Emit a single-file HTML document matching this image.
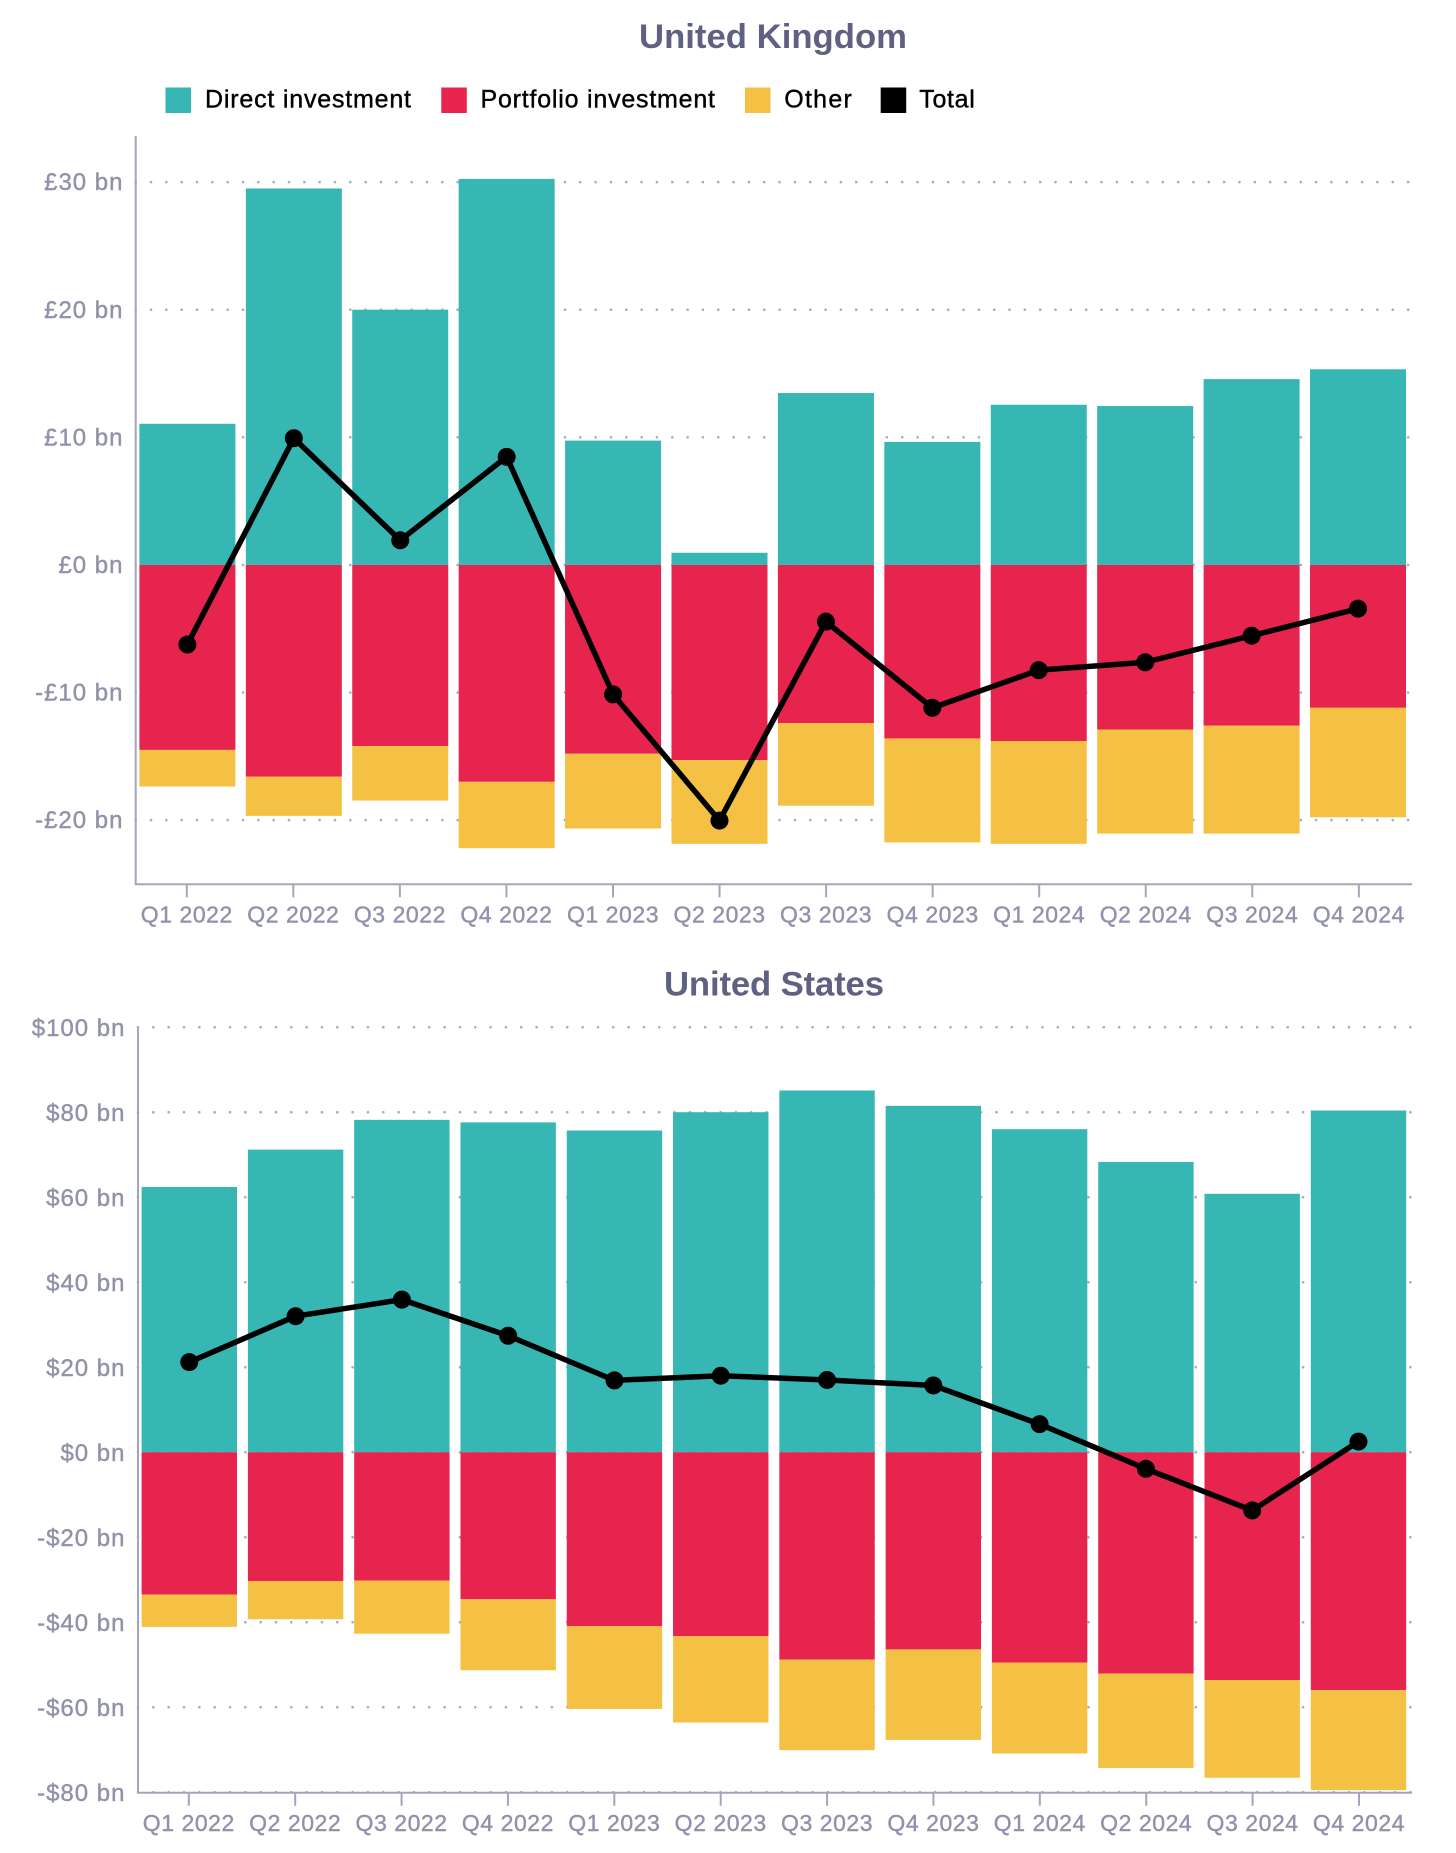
<!DOCTYPE html>
<html lang="en">
<head>
<meta charset="utf-8">
<title>Investment flows: United Kingdom and United States</title>
<style>
html,body{margin:0;padding:0;background:#fff;width:1456px;height:1853px;overflow:hidden}
svg{display:block;font-family:"Liberation Sans",Arial,sans-serif}
.title{font-size:34.7px;font-weight:700;fill:#5f6183;text-anchor:middle}
.legend-text{font-size:25px;fill:#000;stroke:#000;stroke-width:.4}
.tick-text{font-size:23px;fill:#8f92aa;stroke:#8f92aa;stroke-width:.4;letter-spacing:.55px}
.y-tick-text{font-size:24px;letter-spacing:1px}
</style>
</head>
<body>
<svg id="figure" width="1456" height="1853" viewBox="0 0 1456 1853" xmlns="http://www.w3.org/2000/svg">
  <text class="title" x="773" y="48" textLength="268" lengthAdjust="spacing">United Kingdom</text>
  <g>
    <rect x="165.5" y="87.5" width="25.5" height="25.5" fill="#36b7b4"/>
    <text class="legend-text" x="205" y="107.7" textLength="206" lengthAdjust="spacing">Direct investment</text>
    <rect x="441.3" y="87.5" width="25.5" height="25.5" fill="#e7244d"/>
    <text class="legend-text" x="480.5" y="107.7" textLength="234.5" lengthAdjust="spacing">Portfolio investment</text>
    <rect x="745" y="87.5" width="25.5" height="25.5" fill="#f4c145"/>
    <text class="legend-text" x="784.3" y="107.7" textLength="67.5" lengthAdjust="spacing">Other</text>
    <rect x="880.7" y="87.5" width="25.5" height="25.5" fill="#000"/>
    <text class="legend-text" x="919.3" y="107.7" textLength="55.5" lengthAdjust="spacing">Total</text>
  </g>
  <text class="title" x="774" y="995.7" textLength="220" lengthAdjust="spacing">United States</text>
</svg>
<script>
const quarters = ["Q1 2022","Q2 2022","Q3 2022","Q4 2022","Q1 2023","Q2 2023","Q3 2023","Q4 2023","Q1 2024","Q2 2024","Q3 2024","Q4 2024"];

const ukDirect = [11.06,29.5,20.0,30.25,9.74,0.95,13.47,9.64,12.55,12.45,14.56,15.33];
const ukPortfolio = [-14.5,-16.6,-14.2,-17.0,-14.8,-15.3,-12.4,-13.6,-13.8,-12.9,-12.6,-11.2];
const ukOther = [-2.87,-3.07,-4.27,-5.2,-5.86,-6.56,-6.47,-8.15,-8.06,-8.16,-8.46,-8.58];
const ukTotal = [-6.24,9.93,1.93,8.47,-10.15,-20.04,-4.45,-11.2,-8.25,-7.63,-5.55,-3.43];
const ukTicks = [30,20,10,0,-10,-20];
const ukTickLabels = ["£30 bn","£20 bn","£10 bn","£0 bn","-£10 bn","-£20 bn"];

const usDirect = [62.4,71.2,78.2,77.6,75.7,80.0,85.1,81.5,76.0,68.3,60.8,80.4];
const usPortfolio = [-33.5,-30.3,-30.2,-34.6,-40.9,-43.3,-48.8,-46.4,-49.5,-52.1,-53.6,-56.0];
const usOther = [-7.6,-9.0,-12.5,-16.7,-19.5,-20.3,-21.3,-21.3,-21.4,-22.2,-23.0,-23.5];
const usTotal = [21.2,32.0,35.9,27.4,16.9,18.0,17.0,15.7,6.6,-3.9,-13.7,2.5];
const usTicks = [100,80,60,40,20,0,-20,-40,-60,-80];
const usTickLabels = ["$100 bn","$80 bn","$60 bn","$40 bn","$20 bn","$0 bn","-$20 bn","-$40 bn","-$60 bn","-$80 bn"];

const NS = "http://www.w3.org/2000/svg";
const figure = document.getElementById("figure");

function make(parent, tag, attrs) {
  const el = document.createElementNS(NS, tag);
  for (const k in attrs) el.setAttribute(k, attrs[k]);
  parent.appendChild(el);
  return el;
}

function drawChart(o) {
  const y = v => o.zeroY - v * o.pxPerUnit;
  const x = i => o.firstX + i * o.step;
  const g = make(figure, "g", {});
  
  

  o.ticks.forEach((t, i) => {
    const grid = make(g, "line", {x1: o.axisX, x2: o.gridEnd, y1: y(t), y2: y(t), stroke: "#a9abbf", "stroke-width": 2.6, "stroke-linecap": "round", "stroke-dasharray": "0.01 15.32"});
    
    
  });

  quarters.forEach((q, i) => {
    const cx = x(i), left = cx - o.barW / 2;
    const d = make(g, "rect", {x: left, width: o.barW, y: y(o.direct[i]), height: y(0) - y(o.direct[i]), fill: "#36b7b4"});
    
    
    const p = make(g, "rect", {x: left, width: o.barW, y: y(0), height: y(o.portfolio[i]) - y(0), fill: "#e7244d"});
    
    
    const stackEnd = o.portfolio[i] + o.other[i];
    const s = make(g, "rect", {x: left, width: o.barW, y: y(o.portfolio[i]), height: y(stackEnd) - y(o.portfolio[i]), fill: "#f4c145"});
    
    
  });

  const yAxis = make(g, "line", {x1: o.axisX, x2: o.axisX, y1: o.axisTop, y2: o.axisBottom, stroke: "#a3a5bb", "stroke-width": 2});
  
  
  const xAxis = make(g, "line", {x1: o.axisX - 1, x2: 1412, y1: o.axisBottom, y2: o.axisBottom, stroke: "#a3a5bb", "stroke-width": 2});
  
  

  o.ticks.forEach((t, i) => {
    const lab = make(g, "text", {class: "tick-text y-tick-text", x: o.labelRight, y: y(t) + o.labelDrop, "text-anchor": "end"});
    lab.textContent = o.tickLabels[i];
    
    
  });

  quarters.forEach((q, i) => {
    const tx = o.tickFirstX + i * o.tickStep;
    const tick = make(g, "line", {x1: tx, x2: tx, y1: o.axisBottom, y2: o.axisBottom + 13, stroke: "#a3a5bb", "stroke-width": 2});
    
    
    const lab = make(g, "text", {class: "tick-text", x: tx, y: o.xLabelY, "text-anchor": "middle"});
    lab.textContent = q;
    
    
  });

  const pts = o.total.map((v, i) => x(i) + "," + y(v)).join(" ");
  const line = make(g, "polyline", {points: pts, fill: "none", stroke: "#000", "stroke-width": 5.5, "stroke-linejoin": "round"});
  
  
  o.total.forEach((v, i) => {
    const c = make(g, "circle", {cx: x(i), cy: y(v), r: 9, fill: "#000"});
    
    
  });
}

drawChart({id: "uk", direct: ukDirect, portfolio: ukPortfolio, other: ukOther, total: ukTotal, ticks: ukTicks, tickLabels: ukTickLabels,
  zeroY: 564.9, pxPerUnit: 12.76, firstX: 187.4, step: 106.42, barW: 96, axisX: 135.7, gridEnd: 1412, axisTop: 136, axisBottom: 884.3,
  labelRight: 123.5, labelDrop: 8.1, tickFirstX: 186.8, tickStep: 106.55, xLabelY: 922.7});

drawChart({id: "us", direct: usDirect, portfolio: usPortfolio, other: usOther, total: usTotal, ticks: usTicks, tickLabels: usTickLabels,
  zeroY: 1452.2, pxPerUnit: 4.25, firstX: 189.3, step: 106.29, barW: 95.4, axisX: 138, gridEnd: 1412, axisTop: 1027.7, axisBottom: 1792.7,
  labelRight: 125.5, labelDrop: 8.8, tickFirstX: 188.8, tickStep: 106.38, xLabelY: 1831});
</script>
</body>
</html>
